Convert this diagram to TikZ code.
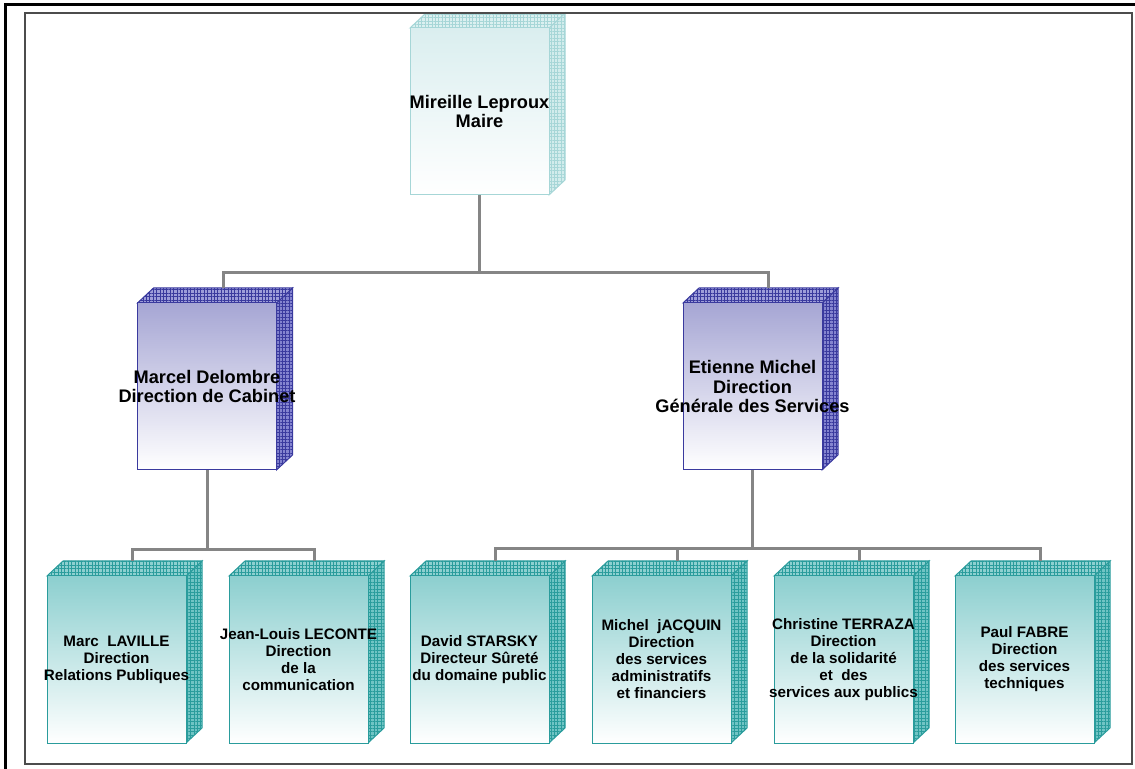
\documentclass[tikz,border=0pt]{standalone}
\usepackage{fontspec}
\setmainfont{Liberation Sans}
\usetikzlibrary{backgrounds,patterns.meta}
\definecolor{mairefill}{HTML}{DAEEEF}
\definecolor{maireside}{HTML}{D2ECEC}
\definecolor{maireline}{HTML}{A6D6D7}
\definecolor{dirfill}{HTML}{A6A6D4}
\definecolor{dirside}{HTML}{8484CF}
\definecolor{dirline}{HTML}{3A3A9E}
\definecolor{servfill}{HTML}{8CCFCF}
\definecolor{servside}{HTML}{70C4C4}
\definecolor{servline}{HTML}{2A9C9C}
\definecolor{linkgray}{HTML}{858585}

\begin{document}
\begin{tikzpicture}[x=0.5pt,y=-0.5pt,
        box/.style={rectangle,minimum width=69.5pt,minimum height=83.5pt,inner sep=0pt,outer sep=0pt,line width=0.5pt,bottom color=white},
        mairebox/.style={box,draw=maireline,top color=mairefill},
        dirbox/.style={box,draw=dirline,top color=dirfill},
        servbox/.style={box,draw=servline,top color=servfill},
        face/.style 2 args={fill=#1,draw=#2,line width=0.5pt,
                postaction={pattern={Hatch[angle=0,distance=1.7pt,line width=0.2pt]},pattern color=#2}},
        big/.style={align=center,text=black,font=\bfseries\fontsize{9.1}{9.6}\selectfont},
        small/.style={align=center,text=black,font=\bfseries\fontsize{7.6}{8.5}\selectfont},
        link/.style={draw=linkgray,line width=1.5pt}]
        \useasboundingbox (0,0) rectangle (1135,769);
        \draw[line width=1.5pt] (5,769) -- (5,5) -- (1135,5);
        \draw[line width=0.9pt,black!70] (25,13) rectangle (1132,764);

        \node[mairebox,label={[big]center:{Mireille Leproux\\Maire}}] (maire) at (479.5,111.5) {};
        \node[dirbox,label={[big]center:{Marcel Delombre\\Direction de Cabinet}}] (cab) at (207,386.5) {};
        \node[dirbox,label={[big]center:{Etienne Michel\\Direction\\Générale des Services}}] (dgs) at (752.5,386.5) {};
        \foreach \n/\x/\txt in {marc/116.5/{Marc~~LAVILLE\\Direction\\Relations Publiques},
                leconte/298.5/{Jean-Louis LECONTE\\Direction\\de la\\communication},
                starsky/479.5/{David STARSKY\\Directeur Sûreté\\du domaine public},
                jacquin/661.5/{Michel~~jACQUIN\\Direction\\des services\\administratifs\\et financiers},
                terraza/843.5/{Christine TERRAZA\\Direction\\de la solidarité\\et~~des\\services aux publics},
                fabre/1024.5/{Paul FABRE\\Direction\\des services\\techniques}}{
            \node[servbox,label={[small]center:\txt}] (\n) at (\x,659.5) {};
        }

        \begin{scope}[on background layer]
        \foreach \n/\c/\l in {maire/maireside/maireline,cab/dirside/dirline,dgs/dirside/dirline,
                marc/servside/servline,leconte/servside/servline,starsky/servside/servline,
                jacquin/servside/servline,terraza/servside/servline,fabre/servside/servline}{
            \path[face={\c}{\l}] (\n.north east) -- ++(16,-15) -- ++(0,167) -- (\n.south east) -- cycle;
            \path[face={\c!80!white}{\l}] (\n.north west) -- ++(16,-15) -- ++(139,0) -- (\n.north east) -- cycle;
            \path (\n.north) ++(16,-15) coordinate (\n-t);
        }
        \draw[link] (maire.south) -- ++(0,78) -| (cab-t);
        \draw[link] (maire.south) -- ++(0,78) -| (dgs-t);
        \draw[link] (cab.south) -- ++(0,80) -| (marc-t);
        \draw[link] (cab.south) -- ++(0,80) -| (leconte-t);
        \foreach \n in {starsky,jacquin,terraza,fabre}
            \draw[link] (dgs.south) -- ++(0,79) -| (\n-t);
        \end{scope}
\end{tikzpicture}
\end{document}
